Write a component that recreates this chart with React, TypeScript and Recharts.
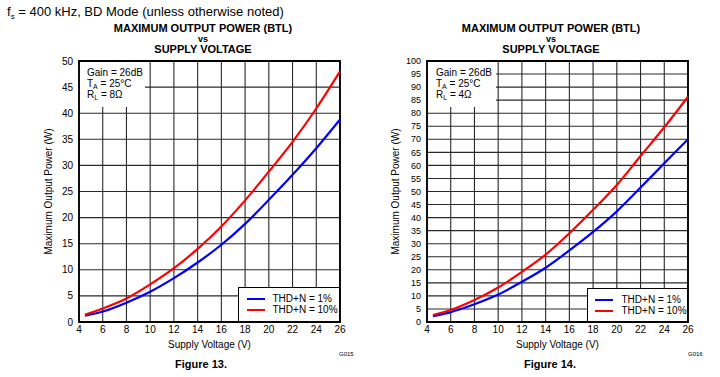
import React from 'react';
import {
  LineChart,
  Line,
  XAxis,
  YAxis,
  CartesianGrid,
  Legend,
  ReferenceArea,
} from 'recharts';

// values
const voltage = [4.5, 6, 8, 10, 12, 14, 16, 18, 20, 22, 24, 26];
const thd1Load8 = [1.2, 2.0, 3.7, 5.8, 8.4, 11.4, 14.8, 18.8, 23.4, 28.2, 33.3, 38.8];
const thd10Load8 = [1.4, 2.6, 4.5, 7.2, 10.3, 14.0, 18.3, 23.3, 28.8, 34.5, 40.9, 48.0];
const thd1Load4 = [2.2, 3.8, 6.8, 10.5, 15.4, 20.8, 27.4, 34.5, 42.4, 51.5, 60.8, 70.0];
const thd10Load4 = [2.7, 4.6, 8.4, 13.2, 19.2, 25.8, 34.0, 43.0, 52.5, 63.6, 74.6, 86.3];

const voltageTicks = [4, 6, 8, 10, 12, 14, 16, 18, 20, 22, 24, 26];
const powerTicks8 = [0, 5, 10, 15, 20, 25, 30, 35, 40, 45, 50];
const powerTicks4 = [0, 5, 10, 15, 20, 25, 30, 35, 40, 45, 50, 55, 60, 65, 70, 75, 80, 85, 90, 95, 100];

const seriesNames = ['THD+N = 1%', 'THD+N = 10%'];
const titleLines = ['MAXIMUM OUTPUT POWER (BTL)', 'vs', 'SUPPLY VOLTAGE'];

const FONT = '"Liberation Sans", Arial, Helvetica, sans-serif';

const buildRows = (low: number[], high: number[]) =>
  voltage.map((v, i) => ({ v, low: low[i], high: high[i] }));

const LegendBox = ({ payload, padLeft, gap }: any) => (
  <div
    style={{
      boxSizing: 'border-box',
      width: '100%',
      height: '100%',
      border: '1.5px solid #000',
      background: '#fff',
      padding: `5px 0 0 ${padLeft}px`,
      fontFamily: FONT,
    }}
  >
    {(payload || []).map((p: any) => (
      <div key={p.value} style={{ display: 'flex', alignItems: 'center', height: 11, fontSize: 10, color: '#000' }}>
        <span style={{ display: 'inline-block', width: 18, borderTop: `2.5px solid ${p.color}`, marginRight: gap }} />
        <span>{p.value}</span>
      </div>
    ))}
  </div>
);

interface FigureProps {
  left: number;
  rows: { v: number; low: number; high: number }[];
  yTicks: number[];
  yMax: number;
  yTickSize: number;
  margin: { top: number; right: number; bottom: number; left: number };
  yAxisWidth: number;
  load: string;
  noteBox: { left: number; width: number; padLeft: number };
  legendBox: { left: number; top: number; width: number; height: number; padLeft: number; gap: number };
  titleCenter: number;
  code: string;
  codeLeft: number;
  figure: string;
  figureCenter: number;
}

const Figure: React.FC<FigureProps> = (p) => (
  <div style={{ position: 'absolute', left: p.left, top: 0, width: 360, height: 377 }}>
    <LineChart width={360} height={377} data={p.rows} margin={p.margin}>
      <CartesianGrid stroke="#2a2a2a" strokeWidth={1.1} />
      <XAxis
        dataKey="v"
        type="number"
        domain={[4, 26]}
        ticks={voltageTicks}
        interval={0}
        height={30}
        axisLine={false}
        tickLine={false}
        tickSize={0}
        tickMargin={4}
        tick={{ fontSize: 10, fill: '#000' }}
        label={{ value: 'Supply Voltage (V)', position: 'insideBottom', offset: 4, fontSize: 10, fill: '#000' }}
      />
      <YAxis
        type="number"
        domain={[0, p.yMax]}
        ticks={p.yTicks}
        interval={0}
        width={p.yAxisWidth}
        axisLine={false}
        tickLine={false}
        tickSize={0}
        tickMargin={6}
        tick={{ fontSize: p.yTickSize, fill: '#000' }}
        label={{ value: 'Maximum Output Power (W)', angle: -90, position: 'center', fontSize: 10, fill: '#000' }}
      />
      <Line
        type="monotone"
        dataKey="low"
        name={seriesNames[0]}
        stroke="#0000ff"
        strokeWidth={2.2}
        dot={false}
        isAnimationActive={false}
      />
      <Line
        type="monotone"
        dataKey="high"
        name={seriesNames[1]}
        stroke="#ff0000"
        strokeWidth={2.2}
        dot={false}
        isAnimationActive={false}
      />
      <ReferenceArea x1={4} x2={26} y1={0} y2={p.yMax} fill="none" stroke="#000" strokeWidth={1.8} ifOverflow="visible" />
      <Legend
        layout="vertical"
        align="center"
        verticalAlign="middle"
        wrapperStyle={{
          left: p.legendBox.left,
          top: p.legendBox.top,
          width: p.legendBox.width,
          height: p.legendBox.height,
        }}
        content={(props: any) => <LegendBox {...props} padLeft={p.legendBox.padLeft} gap={p.legendBox.gap} />}
      />
    </LineChart>

    {/* test conditions box */}
    <div
      style={{
        position: 'absolute',
        left: p.noteBox.left,
        top: 62,
        width: p.noteBox.width,
        height: 45,
        background: '#fff',
        boxSizing: 'border-box',
        paddingLeft: p.noteBox.padLeft,
        paddingTop: 6,
        fontSize: 10,
        lineHeight: '10.5px',
        color: '#000',
      }}
    >
      <div>Gain = 26dB</div>
      <div>
        T<span style={{ fontSize: 7, position: 'relative', top: 2 }}>A</span> = 25°C
      </div>
      <div>
        R<span style={{ fontSize: 7, position: 'relative', top: 2 }}>L</span> = {p.load}
      </div>
    </div>

    {/* title */}
    {titleLines.map((t, i) => {
      const size = i === 1 ? 9 : 11;
      return (
        <div
          key={t}
          style={{
            position: 'absolute',
            left: p.titleCenter - 150,
            width: 300,
            top: [23, 34.5, 44][i],
            textAlign: 'center',
            fontWeight: 'bold',
            fontSize: size,
            lineHeight: `${size}px`,
            color: '#000',
          }}
        >
          {t}
        </div>
      );
    })}

    <div style={{ position: 'absolute', left: p.codeLeft, top: 351, fontSize: 6, lineHeight: '6px', color: '#000' }}>
      {p.code}
    </div>
    <div
      style={{
        position: 'absolute',
        left: p.figureCenter - 60,
        width: 120,
        top: 358,
        textAlign: 'center',
        fontWeight: 'bold',
        fontSize: 11,
        lineHeight: '12px',
        color: '#000',
      }}
    >
      {p.figure}
    </div>
  </div>
);

export default function App() {
  return (
    <div
      style={{
        position: 'absolute',
        left: 0,
        top: 0,
        width: 720,
        height: 377,
        background: '#fff',
        fontFamily: FONT,
        overflow: 'hidden',
      }}
    >
      <div style={{ position: 'absolute', left: 7, top: 5, fontSize: 13, lineHeight: '14px', color: '#000', whiteSpace: 'nowrap' }}>
        f<span style={{ fontSize: 8, position: 'relative', top: 3 }}>s</span> = 400 kHz, BD Mode (unless otherwise noted)
      </div>

      <Figure
        left={0}
        rows={buildRows(thd1Load8, thd10Load8)}
        yTicks={powerTicks8}
        yMax={50}
        yTickSize={10}
        margin={{ top: 61, right: 20, bottom: 25, left: 17 }}
        yAxisWidth={62}
        load="8Ω"
        noteBox={{ left: 80, width: 65, padLeft: 7 }}
        legendBox={{ left: 238, top: 287, width: 102, height: 35, padLeft: 7.5, gap: 8 }}
        titleCenter={203}
        code="G015"
        codeLeft={339}
        figure="Figure 13."
        figureCenter={201}
      />

      <Figure
        left={360}
        rows={buildRows(thd1Load4, thd10Load4)}
        yTicks={powerTicks4}
        yMax={100}
        yTickSize={9}
        margin={{ top: 61, right: 32, bottom: 25, left: 3 }}
        yAxisWidth={64}
        load="4Ω"
        noteBox={{ left: 68, width: 68, padLeft: 8 }}
        legendBox={{ left: 227, top: 288, width: 101, height: 34, padLeft: 6.5, gap: 9 }}
        titleCenter={191}
        code="G016"
        codeLeft={328}
        figure="Figure 14."
        figureCenter={190}
      />
    </div>
  );
}
